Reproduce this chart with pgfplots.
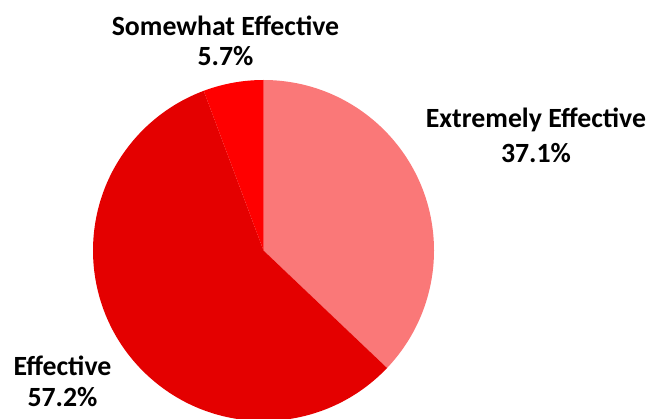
\documentclass[border=0pt]{standalone}
\usepackage{fontspec}
\setmainfont{Carlito}
\usepackage{pgfplots}
\usepackage{pgfplotstable}
\pgfplotsset{compat=1.18}
\definecolor{cExt}{RGB}{250,120,120}
\definecolor{cEff}{RGB}{228,0,0}
\definecolor{cSom}{RGB}{255,0,0}
\pgfplotstableread{
label value
Extremely 37.1
Effective 57.2
Somewhat 5.7
}\piedata
\newcommand\lbl[3]{\node[anchor=base,font=\fontsize{27.8bp}{32bp}\selectfont\bfseries,inner sep=0pt] at (axis cs:#1,#2) {#3};}
\begin{document}
\begin{tikzpicture}
\begin{axis}[
  scale only axis, width=663bp, height=419bp,
  xmin=0, xmax=663, ymin=0, ymax=419,
  hide axis, clip=false]
\pgfplotstablegetelem{0}{value}\of\piedata \let\vA\pgfplotsretval
\pgfplotstablegetelem{1}{value}\of\piedata \let\vB\pgfplotsretval
\pgfplotstablegetelem{2}{value}\of\piedata \let\vC\pgfplotsretval
\pgfmathsetmacro\aA{90}
\pgfmathsetmacro\aB{90-3.6*\vA}
\pgfmathsetmacro\aC{\aB-3.6*\vB}
\pgfmathsetmacro\aD{\aC-3.6*\vC}
\edef\slices{%
\noexpand\fill[cExt] (axis cs:263.5,168.5) -- ++(\aA:170.5bp) arc[start angle=\aA, end angle=\aB, radius=170.5bp] -- cycle;
\noexpand\fill[cEff] (axis cs:263.5,168.5) -- ++(\aB:170.5bp) arc[start angle=\aB, end angle=\aC, radius=170.5bp] -- cycle;
\noexpand\fill[cSom] (axis cs:263.5,168.5) -- ++(\aC:170.5bp) arc[start angle=\aC, end angle=\aD, radius=170.5bp] -- cycle;
}
\slices
\lbl{225.5}{383.5}{Somewhat Effective}
\lbl{225.5}{353.5}{5.7\%}
\lbl{536}{291.7}{Extremely Effective}
\lbl{536}{256.5}{37.1\%}
\lbl{62.5}{43}{Effective}
\lbl{62.5}{12.5}{57.2\%}
\end{axis}
\pgfresetboundingbox
\useasboundingbox (0,0) rectangle (663bp,419bp);
\end{tikzpicture}
\end{document}
